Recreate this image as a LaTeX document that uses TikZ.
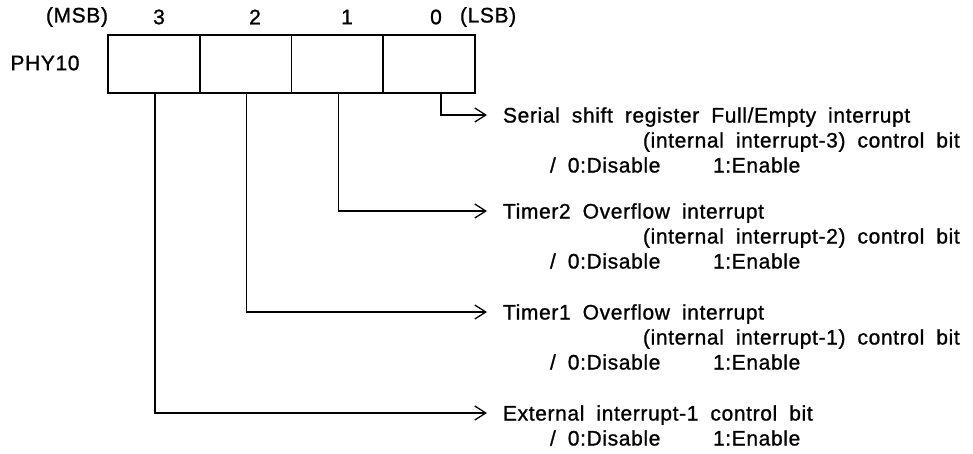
\documentclass[tikz,border=0pt]{standalone}
\usepackage{fontspec}
\setmainfont{Liberation Sans}[LetterSpace=3,FakeBold=1]
\usetikzlibrary{arrows.meta}
\newcommand\regfont{\fontsize{21}{24}\selectfont\spaceskip=12pt plus 0pt minus 0pt\relax}
\begin{document}
\begin{tikzpicture}[x=1pt,y=-1pt,
  every node/.style={inner sep=0pt,outer sep=0pt},
  txt/.style={font=\regfont},
  lbl/.style={txt,anchor=base west},
  cell/.style={draw,line width=1.8pt,minimum width=91.75pt,minimum height=58pt},
  conn/.style={line width=1.3pt,-{Straight Barb[length=11pt,width=14pt,line width=1.3pt]}}
]
\useasboundingbox (0,0) rectangle (973,453);
% register
\node[cell] (b3) at (153.9,64) {};
\node[cell] (b2) at (245.6,64) {};
\node[cell] (b1) at (337.4,64) {};
\node[cell] (b0) at (429.1,64) {};
% header
\node[txt] (msb) at (77,17) {(MSB)};
\node[txt] (h3) at (159,17) {3};
\node[txt] (h2) at (255,17) {2};
\node[txt] (h1) at (347,17) {1};
\node[txt] (h0) at (436,17) {0};
\node[txt,anchor=west] (lsb) at (460,17) {(LSB)};
\node[txt] (phy) at (45,63) {PHY10};
% arrow tips
\coordinate (t0) at (487,115);
\coordinate (t1) at (487,211);
\coordinate (t2) at (487,312);
\coordinate (t3) at (487,413);
\draw[conn] ([xshift=12pt]b0.south) |- (t0);
\draw[conn] ([xshift=1pt]b1.south) |- (t1);
\draw[conn] ([xshift=1pt]b2.south) |- (t2);
\draw[conn] ([xshift=1pt]b3.south) |- (t3);
% descriptions
\node[lbl] (d0a) at (503,122.5) {Serial shift register Full/Empty interrupt};
\node[lbl] (d0b) at (643,147.5) {(internal interrupt-3) control bit};
\node[lbl] (d0c) at (550,172.5) {/ 0:Disable};
\node[lbl] (d0d) at (713,172.5) {1:Enable};
\node[lbl] (d1a) at (503,218.5) {Timer2 Overflow interrupt};
\node[lbl] (d1b) at (643,243.5) {(internal interrupt-2) control bit};
\node[lbl] (d1c) at (550,268.5) {/ 0:Disable};
\node[lbl] (d1d) at (713,268.5) {1:Enable};
\node[lbl] (d2a) at (503,319.5) {Timer1 Overflow interrupt};
\node[lbl] (d2b) at (643,344.5) {(internal interrupt-1) control bit};
\node[lbl] (d2c) at (550,369.5) {/ 0:Disable};
\node[lbl] (d2d) at (713,369.5) {1:Enable};
\node[lbl] (d3a) at (503,420.5) {External interrupt-1 control bit};
\node[lbl] (d3c) at (550,445.5) {/ 0:Disable};
\node[lbl] (d3d) at (713,445.5) {1:Enable};
\end{tikzpicture}
\end{document}
